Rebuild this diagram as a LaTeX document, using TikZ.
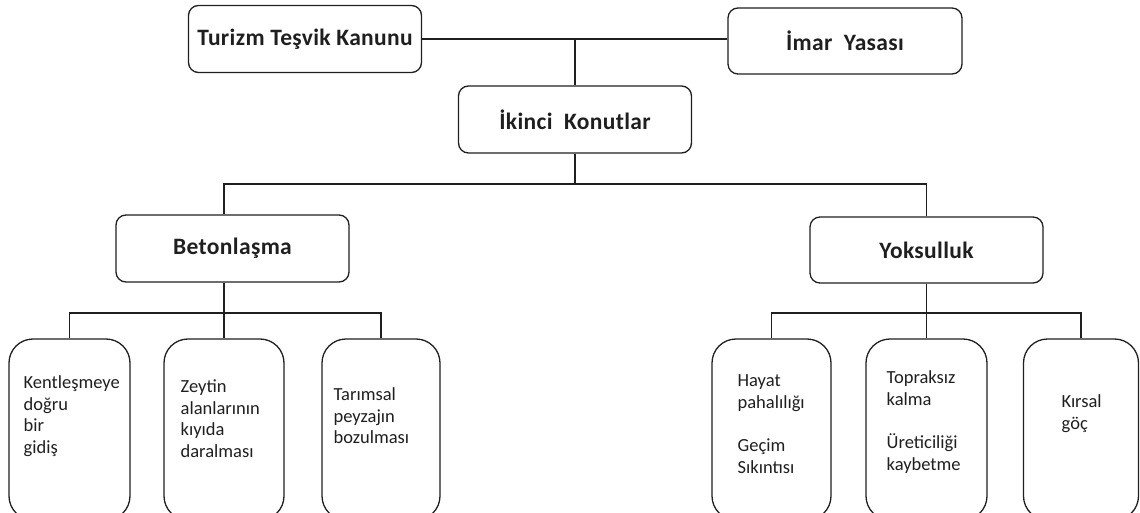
\documentclass[tikz,border=0pt]{standalone}
\usepackage{fontspec}
\setmainfont{Carlito}
\newfontfamily\topfont[LetterSpace=1.5]{Carlito}
\usetikzlibrary{positioning}
\tikzset{
	topbox/.style = {draw, rounded corners=10pt, minimum width=233pt, minimum height=67pt,
		inner sep=0pt, font=\topfont\fontsize{23.5}{28}\selectfont\bfseries},
	leafbox/.style = {draw, rounded corners=24pt, minimum width=119pt, minimum height=181pt, inner sep=0pt},
	leaftext/.style = {anchor=north west, inner sep=0pt, align=left, font=\fontsize{18.5}{21.5}\selectfont}
}

\begin{document}
\begin{tikzpicture}[x=1pt, y=-1pt, color=black!88, line width=1.3pt]
	\useasboundingbox (0,0) rectangle (1140,513);
	\clip (0,0) rectangle (1140,513);
	% upper levels
	\node[topbox] (turizm) at (305,39) {Turizm Teşvik Kanunu};
	\node[topbox, minimum width=234pt, minimum height=66pt] (imar) at (845,41) {İmar~~Yasası};
	\node[topbox] (ikinci) at (575,119.5) {İkinci~~Konutlar};
	\node[topbox] (beton) at (232.5,248.5) {Betonlaşma};
	\node[topbox, minimum height=66pt] (yoksul) at (926.5,250) {Yoksulluk};
	% leaves
	\node[leafbox, minimum width=121pt] (kent) at (69.5,429.5) {};
	\node[leafbox, minimum width=120pt] (zeytin) at (224,429.5) {};
	\node[leafbox, minimum width=118pt] (tarim) at (381,429.5) {};
	\node[leafbox] (hayat) at (771.5,429.5) {};
	\node[leafbox, minimum width=121pt] (toprak) at (926.5,429.5) {};
	\node[leafbox, minimum width=115pt] (kirsal) at (1081,429.5) {};
	\node[leaftext] (kenttxt) at (23,373) {\strut Kentleşmeye\\doğru\\bir\\gidiş};
	\node[leaftext] (zeytintxt) at (180,377) {\strut Zeytin\\alanlarının\\kıyıda\\daralması};
	\node[leaftext] (tarimtxt) at (333,385) {\strut Tarımsal\\peyzajın\\bozulması};
	\node[leaftext] (hayattxt) at (737,371) {\strut Hayat\\pahalılığı\\[22pt]Geçim\\Sıkıntısı};
	\node[leaftext] (topraktxt) at (886,368) {\strut Topraksız\\kalma\\[22pt]Üreticiliği\\kaybetme};
	\node[leaftext] (kirsaltxt) at (1061,392) {\strut Kırsal\\göç};
	% connectors
	\coordinate (split) at (575,184);
	\coordinate (lsplit) at (224,313);
	\coordinate (rsplit) at (926.5,313);
	\draw (turizm.east) -- (turizm.east -| imar.west);
	\draw (ikinci) -- (ikinci |- turizm.east);
	\draw (ikinci) -- (split);
	\draw (zeytin.north |- beton.north) |- (split) -| (yoksul);
	\draw (zeytin.north |- beton.south) -- (zeytin);
	\draw (kent.north) |- (lsplit) -| (tarim.north);
	\draw (yoksul) -- (toprak);
	\draw (hayat.north) |- (rsplit) -| (kirsal.north);
\end{tikzpicture}
\end{document}
